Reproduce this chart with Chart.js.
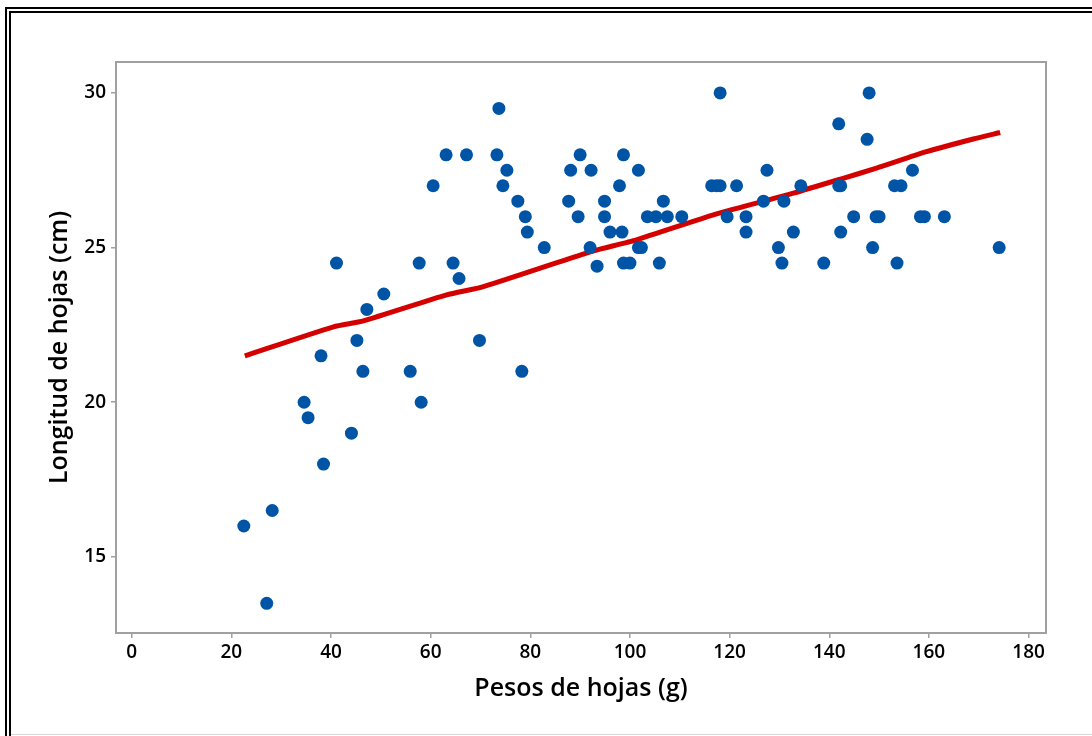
<!DOCTYPE html>
<html>
<head>
<meta charset="utf-8">
<script src="https://cdn.jsdelivr.net/npm/chart.js@4/dist/chart.umd.min.js"></script>
<style>
    html, body { margin: 0; padding: 0; background: #fff; overflow: hidden; }
    #wrap { position: relative; width: 1092px; height: 736px; }
    #frame {
        position: absolute; left: 5px; top: 7px; width: 1200px; height: 800px;
        border-left: 6px double #000; border-top: 6px double #000;
        pointer-events: none;
    }
    #baseLine { position: absolute; left: 11px; right: 0; top: 734px; height: 1px; background: #d8d8d8; }
</style>
</head>
<body>
<div id="wrap">
    <canvas id="scatterChart" width="1092" height="736"></canvas>
    <div id="frame"></div>
    <div id="baseLine"></div>
</div>
<script>
// leaf weight (g) vs leaf length (cm)
const pesos = [
    22.5, 27.1, 28.2, 34.6, 35.4, 38.0, 38.5, 41.1, 44.1, 45.2, 46.4, 47.2, 50.6, 55.9, 57.7, 58.1,
    60.5, 63.1, 64.5, 65.7, 67.2, 69.8, 73.3, 73.7, 74.5, 75.3, 77.5, 78.3, 79.0, 79.4, 82.8,
    87.7, 88.1, 89.6, 90.0, 92.0, 92.2, 93.4, 94.9, 94.9, 96.0, 97.9, 98.4, 98.7, 98.7, 100.0,
    101.7, 101.7, 102.3, 103.5, 105.2, 105.9, 106.7, 107.5, 110.4, 116.4, 117.4, 118.1, 118.1,
    119.5, 121.4, 123.3, 123.3, 126.8, 127.5, 129.8, 130.5, 130.9, 132.8, 134.3, 138.9, 141.9,
    141.9, 142.3, 142.3, 144.9, 147.6, 148.0, 148.7, 149.4, 150.0, 153.1, 153.6, 154.4, 156.7,
    158.3, 159.1, 163.1, 174.1
];
const longitudes = [
    16, 13.5, 16.5, 20, 19.5, 21.5, 18, 24.5, 19, 22, 21, 23, 23.5, 21, 24.5, 20,
    27, 28, 24.5, 24, 28, 22, 28, 29.5, 27, 27.5, 26.5, 21, 26, 25.5, 25,
    26.5, 27.5, 26, 28, 25, 27.5, 24.4, 26.5, 26, 25.5, 27, 25.5, 28, 24.5, 24.5,
    27.5, 25, 25, 26, 26, 24.5, 26.5, 26, 26, 27, 27, 27, 30,
    26, 27, 26, 25.5, 26.5, 27.5, 25, 24.5, 26.5, 25.5, 27, 24.5, 29,
    27, 27, 25.5, 26, 28.5, 30, 25, 26, 26, 27, 24.5, 27, 27.5,
    26, 26, 26, 25
];

// smoothed fit line
const ajusteX = [22.7, 40.5, 46.5, 63.2, 70.6, 90.0, 94.0, 101.3, 117.4, 132.8, 142.8, 149.5, 159.5, 168.9, 174.3];
const ajusteY = [21.5, 22.44, 22.63, 23.47, 23.74, 24.76, 24.95, 25.25, 26.09, 26.76, 27.24, 27.57, 28.10, 28.51, 28.72];

const xTicks = [0, 20, 40, 60, 80, 100, 120, 140, 160, 180];
const yTicks = [15, 20, 25, 30];

const AXIS_GRAY = '#a0a0a0';
const FONT = '"Open Sans", "Noto Sans", sans-serif';

const plotFrame = {
    id: 'plotFrame',
    afterDraw(chart) {
        const { ctx, chartArea: a } = chart;
        ctx.save();
        ctx.strokeStyle = AXIS_GRAY;
        ctx.lineWidth = 2;
        ctx.strokeRect(a.left, a.top, a.right - a.left, a.bottom - a.top);
        ctx.restore();
    }
};

function init() {
    const ctx = document.getElementById('scatterChart').getContext('2d');
    new Chart(ctx, {
        type: 'scatter',
        data: {
            datasets: [
                {
                    label: 'Datos',
                    data: pesos.map((x, i) => ({ x, y: longitudes[i] })),
                    backgroundColor: '#0054a6',
                    borderWidth: 0,
                    pointRadius: 6.5,
                    order: 1
                },
                {
                    label: 'Ajuste',
                    type: 'line',
                    data: ajusteX.map((x, i) => ({ x, y: ajusteY[i] })),
                    borderColor: '#d40000',
                    borderWidth: 5,
                    pointRadius: 0,
                    fill: false,
                    tension: 0.2,
                    order: 2
                }
            ]
        },
        options: {
            responsive: false,
            animation: false,
            layout: { padding: { left: 0, top: 62, right: 46, bottom: 0 } },
            plugins: { legend: { display: false }, tooltip: { enabled: false } },
            scales: {
                x: {
                    type: 'linear', min: -3.15, max: 183.5,
                    afterBuildTicks: s => { s.ticks = xTicks.map(v => ({ value: v })); },
                    afterFit: s => { s.height = 103; },
                    border: { display: false },
                    grid: { drawOnChartArea: false, drawTicks: true, tickLength: 5, color: AXIS_GRAY, lineWidth: 1.5 },
                    ticks: { color: '#000', padding: 3, font: { family: FONT, size: 19, weight: '600' } },
                    title: {
                        display: true, text: 'Pesos de hojas (g)', color: '#000',
                        padding: { top: 0, bottom: 32 },
                        font: { family: FONT, size: 25, weight: '600' }
                    }
                },
                y: {
                    type: 'linear', min: 12.54, max: 31.0,
                    afterBuildTicks: s => { s.ticks = yTicks.map(v => ({ value: v })); },
                    afterFit: s => { s.width = 116; },
                    border: { display: false },
                    grid: { drawOnChartArea: false, drawTicks: true, tickLength: 5, color: AXIS_GRAY, lineWidth: 1.5 },
                    ticks: { color: '#000', padding: 5, font: { family: FONT, size: 19, weight: '600' } },
                    title: {
                        display: true, text: 'Longitud de hojas (cm)', color: '#000',
                        padding: { top: 45, bottom: 0 },
                        font: { family: FONT, size: 25, weight: '600' }
                    }
                }
            }
        },
        plugins: [plotFrame]
    });
}

document.addEventListener('DOMContentLoaded', init);
</script>
</body>
</html>
